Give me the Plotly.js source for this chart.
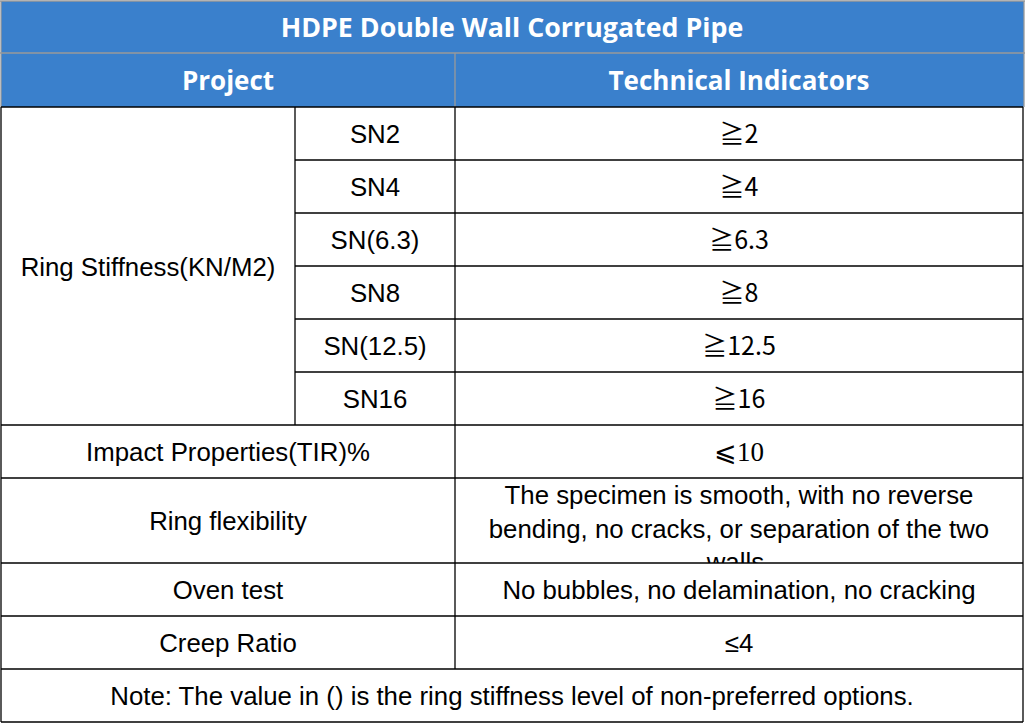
<!DOCTYPE html>
<html>
<head>
<meta charset="utf-8">
<script src="https://cdn.plot.ly/plotly-3.0.1.min.js"></script>
<style>
  html, body { margin: 0; padding: 0; background: #ffffff; }
  #chart { width: 1026px; height: 724px; }
</style>
</head>
<body>
<div id="chart"></div>
<script>
// table content
const tableTitle = 'HDPE Double Wall Corrugated Pipe';
const headerLabels = ['Project', 'Technical Indicators'];
const stiffnessGroup = 'Ring Stiffness(KN/M2)';
const stiffnessGrades = ['SN2', 'SN4', 'SN(6.3)', 'SN8', 'SN(12.5)', 'SN16'];
const stiffnessValues = ['≧2', '≧4', '≧6.3', '≧8', '≧12.5', '≧16'];
const otherProjects = ['Impact Properties(TIR)%', 'Ring flexibility', 'Oven test', 'Creep Ratio'];
const otherIndicators = [
  '⩽10',
  'The specimen is smooth, with no reverse<br>bending, no cracks, or separation of the two<br>walls.',
  'No bubbles, no delamination, no cracking',
  '≤4'
];
const noteText = 'Note: The value in () is the ring stiffness level of non-preferred options.';

// geometry (pixels, y grows downward)
const colEdges = [1, 295, 455, 1023];
const rowHeights = [52, 54, 53, 53, 53, 53, 53, 53, 53, 85, 53, 53, 53];
const rowEdges = [1];
rowHeights.forEach((h) => rowEdges.push(rowEdges[rowEdges.length - 1] + h));

const BLUE = '#3a80cc';
const GRAY = '#9a9a9a';
const BODY_FONT = 'Liberation Sans, Arial, sans-serif';
const HEAD_FONT = 'Open Sans, Noto Sans, sans-serif';
const NUDGE = 3; // text baseline nudge so glyphs sit centred like the original

const midX = (a, b) => (colEdges[a] + colEdges[b]) / 2;
const midY = (a, b) => (rowEdges[a] + rowEdges[b]) / 2 + NUDGE;

// header texts
const headTrace = {
  type: 'scatter', mode: 'text', hoverinfo: 'skip', showlegend: false,
  x: [midX(0, 3), midX(0, 2), midX(2, 3)],
  y: [midY(0, 1), midY(1, 2), midY(1, 2)],
  text: [tableTitle, headerLabels[0], headerLabels[1]],
  textposition: 'middle center',
  textfont: { family: HEAD_FONT, size: [26.8, 26, 26], color: '#ffffff', weight: 'bold' }
};

// body texts
const bx = [], by = [], bt = [], bf = [], bs = [];
const add = (x, y, t, f, s) => { bx.push(x); by.push(y); bt.push(t); bf.push(f || BODY_FONT); bs.push(s || 25.8); };
add(midX(0, 1), midY(2, 8) + 1, stiffnessGroup);
stiffnessGrades.forEach((g, i) => {
  add(midX(1, 2), midY(2 + i, 3 + i), g);
  add(midX(2, 3), midY(2 + i, 3 + i), stiffnessValues[i], 'Noto Sans CJK SC, sans-serif', 25);
});
otherProjects.forEach((p, i) => {
  const r = 8 + i;
  add(midX(0, 2), midY(r, r + 1), p);
  if (i === 0) add(midX(2, 3), midY(r, r + 1), otherIndicators[i], 'Liberation Serif, DejaVu Serif, serif', 27);
  else if (i === 1) add(midX(2, 3), midY(r, r + 1) + 8, otherIndicators[i]);
  else add(midX(2, 3), midY(r, r + 1), otherIndicators[i]);
});
add(midX(0, 3), midY(12, 13), noteText);

const bodyTrace = {
  type: 'scatter', mode: 'text', hoverinfo: 'skip', showlegend: false,
  x: bx, y: by, text: bt,
  textposition: 'middle center',
  textfont: { family: bf, size: bs, color: '#000000' }
};

// cell fills and borders
const shapes = [];
const line = (x0, y0, x1, y1, color) => shapes.push({
  type: 'line', xref: 'x', yref: 'y', x0, y0, x1, y1, layer: 'above',
  line: { color, width: 1.3 }
});

shapes.push({ type: 'rect', xref: 'x', yref: 'y', x0: colEdges[0], x1: colEdges[3] + 1,
  y0: rowEdges[0], y1: rowEdges[2], fillcolor: BLUE, line: { width: 0 }, layer: 'below' });
// white strip that clips the overflowing third line of the ring flexibility cell
shapes.push({ type: 'rect', xref: 'x', yref: 'y', x0: colEdges[2] + 1, x1: colEdges[3] - 1,
  y0: rowEdges[10], y1: rowEdges[10] + 15, fillcolor: '#ffffff', line: { width: 0 }, layer: 'above' });

// header borders (gray)
line(colEdges[0] - 1, rowEdges[0], colEdges[3] + 2, rowEdges[0], GRAY);
line(colEdges[0] - 1, rowEdges[1], colEdges[3] + 2, rowEdges[1], GRAY);
line(colEdges[0], rowEdges[0], colEdges[0], rowEdges[2], GRAY);
line(colEdges[3] + 1, rowEdges[0], colEdges[3] + 1, rowEdges[2], GRAY);
line(colEdges[2], rowEdges[1], colEdges[2], rowEdges[2], GRAY);

// body borders (black)
const last = rowEdges.length - 1;
for (let r = 2; r <= last; r++) {
  const inGroup = r > 2 && r < 8;
  line(inGroup ? colEdges[1] : colEdges[0], rowEdges[r], colEdges[3], rowEdges[r], '#000000');
}
line(colEdges[0], rowEdges[2], colEdges[0], rowEdges[last], '#000000');
line(colEdges[3], rowEdges[2], colEdges[3], rowEdges[last], '#000000');
line(colEdges[1], rowEdges[2], colEdges[1], rowEdges[8], '#000000');
line(colEdges[2], rowEdges[2], colEdges[2], rowEdges[12], '#000000');

const layout = {
  width: 1026, height: 724,
  margin: { l: 0, r: 0, t: 0, b: 0, pad: 0 },
  paper_bgcolor: '#ffffff', plot_bgcolor: '#ffffff',
  xaxis: { range: [0, 1026], visible: false, fixedrange: true },
  yaxis: { range: [724, 0], visible: false, fixedrange: true },
  shapes,
  showlegend: false
};

Plotly.newPlot('chart', [headTrace, bodyTrace], layout, { staticPlot: true });
</script>
</body>
</html>
